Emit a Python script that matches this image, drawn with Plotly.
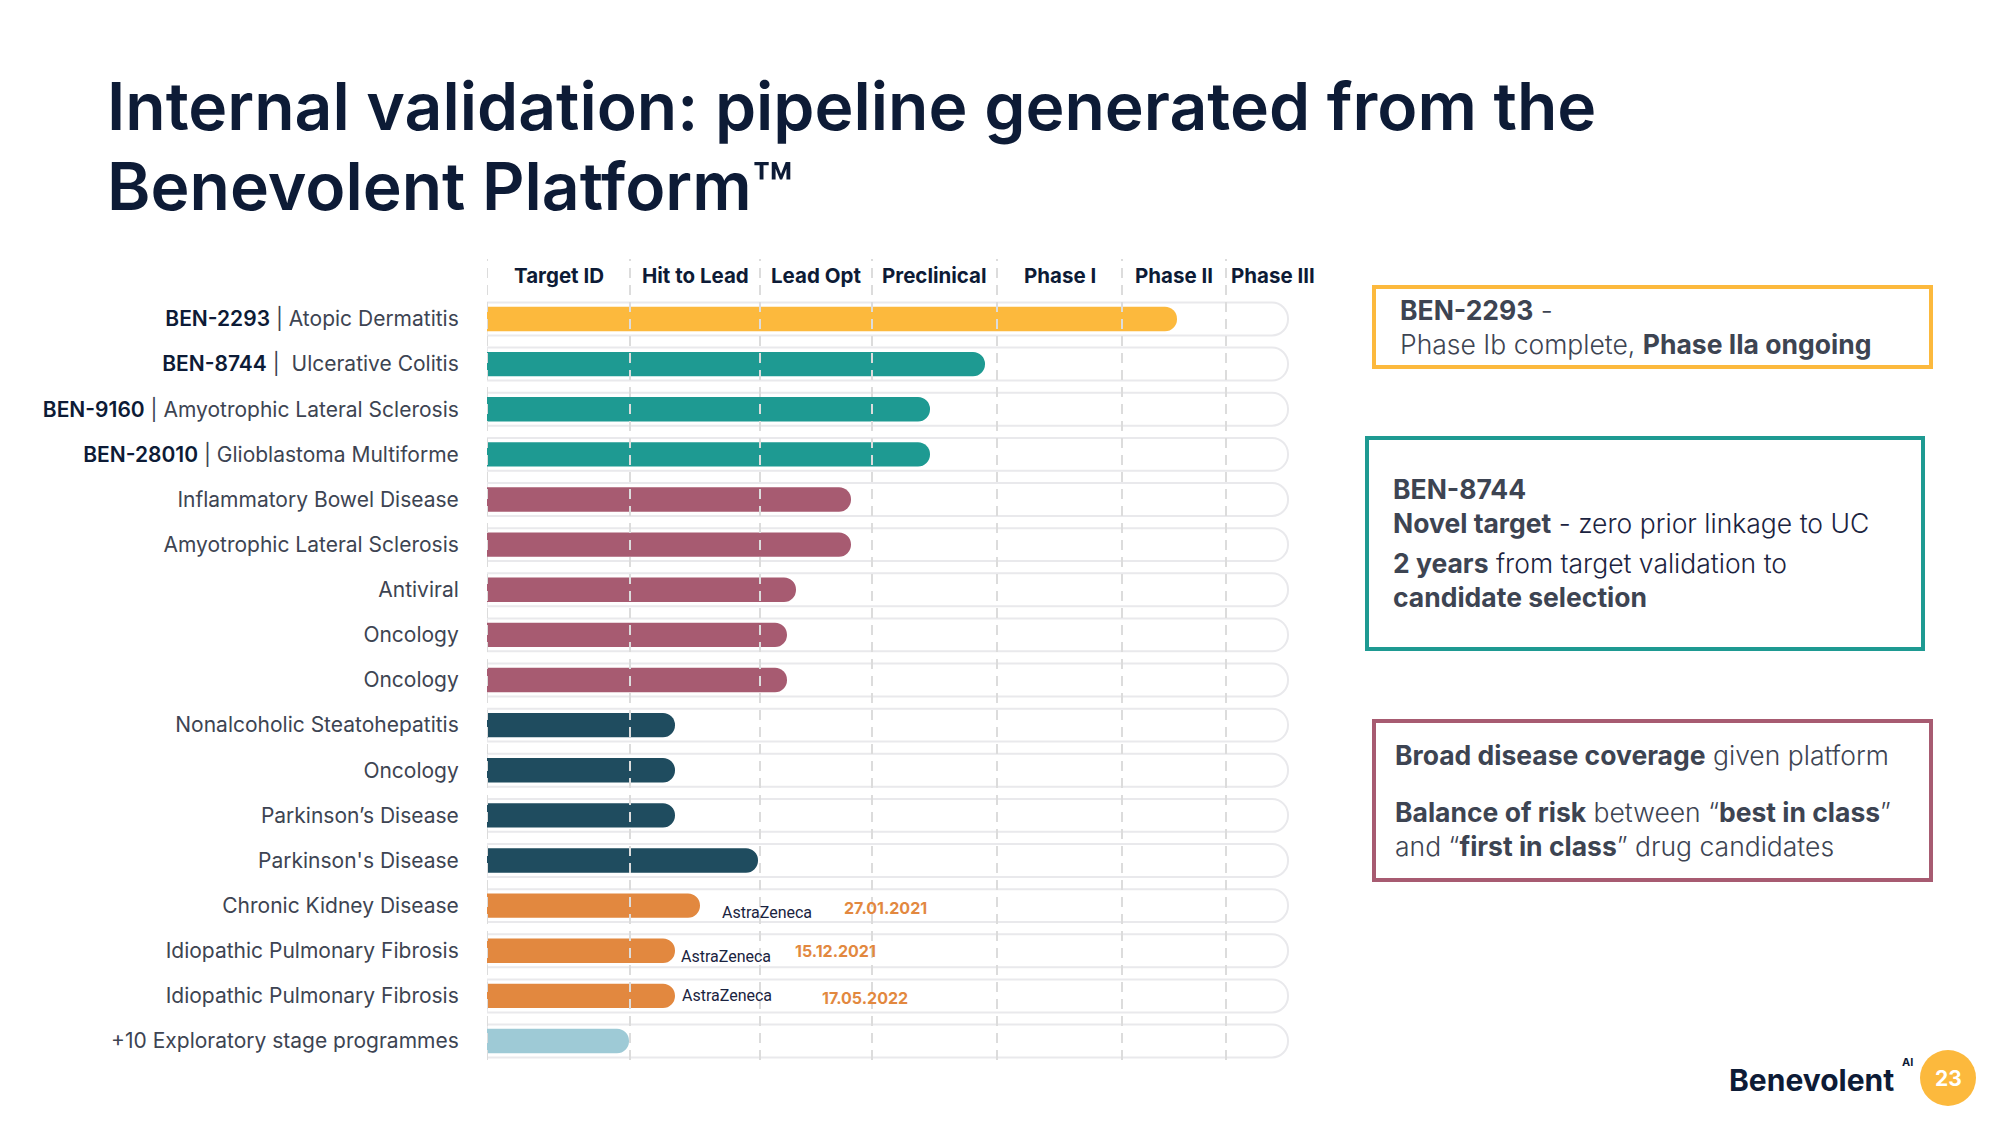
import plotly.graph_objects as go

# ---------------- data ----------------
stage_names = ["Target ID", "Hit to Lead", "Lead Opt", "Preclinical", "Phase I", "Phase II", "Phase III"]
stage_edges = [0, 143, 273, 385, 510, 635, 739, 801]

programme_codes = ["BEN-2293", "BEN-8744", "BEN-9160", "BEN-28010"] + [""] * 13
programme_names = [
    "Atopic Dermatitis",
    " Ulcerative Colitis",
    "Amyotrophic Lateral Sclerosis",
    "Glioblastoma Multiforme",
    "Inflammatory Bowel Disease",
    "Amyotrophic Lateral Sclerosis",
    "Antiviral",
    "Oncology",
    "Oncology",
    "Nonalcoholic Steatohepatitis",
    "Oncology",
    "Parkinson\u2019s Disease",
    "Parkinson's Disease",
    "Chronic Kidney Disease",
    "Idiopathic Pulmonary Fibrosis",
    "Idiopathic Pulmonary Fibrosis",
    "+10 Exploratory stage programmes",
]
progress = [690, 498, 443, 443, 364, 364, 309, 300, 300, 188, 188, 188, 271, 213, 188, 188, 142]
groups = ["clinical", "lead", "lead", "lead", "mid", "mid", "mid", "mid", "mid",
          "early", "early", "early", "early", "partner", "partner", "partner", "explore"]
group_colors = {
    "clinical": "#fcb93d",
    "lead": "#1e9a92",
    "mid": "#a75b71",
    "early": "#1f4c5f",
    "partner": "#e2883f",
    "explore": "#9ecad6",
}
partner_rows = [13, 14, 15]
partner_dates = ["27.01.2021", "15.12.2021", "17.05.2022"]

# ---------------- figure ----------------
W, H = 2000, 1125
def px(x):
    return x / W
def py(y):
    return 1 - y / H

FONT = "Inter, 'Open Sans', sans-serif"
NAVY = "#0d1b36"
GREY = "#3d4452"
DARK = "#1b2340"

tick_text = [
    (f"<span style='color:{NAVY};font-weight:600'>{c}</span> | {n}" if c else n)
    for c, n in zip(programme_codes, programme_names)
]

rows = list(range(len(programme_names)))
fig = go.Figure()

# background tracks (base subplot)
fig.add_trace(go.Bar(
    x=[stage_edges[-1]] * len(rows), y=rows, orientation="h", xaxis="x", yaxis="y",
    width=0.73, marker=dict(color="white", line=dict(color="#e9e9ec", width=2), cornerradius=16),
    hoverinfo="skip", showlegend=False,
))
# programme bars (overlaying axis so they are drawn on top and rounded independently)
fig.add_trace(go.Bar(
    x=progress, y=rows, orientation="h", width=0.54, xaxis="x2", yaxis="y",
    marker=dict(color=[group_colors[g] for g in groups], cornerradius=12, line=dict(width=0)),
    showlegend=False,
))

x0_px, x1_px = 487, 487 + 810
fig.update_layout(
    width=W, height=H, margin=dict(l=0, r=0, t=0, b=0),
    paper_bgcolor="white", plot_bgcolor="white",
    barmode="overlay", font=dict(family=FONT, color=GREY),
    xaxis=dict(domain=[px(x0_px), px(x1_px)], range=[0, 810], visible=False, fixedrange=True),
    xaxis2=dict(overlaying="x", range=[0, 810], visible=False, fixedrange=True),
    yaxis=dict(domain=[py(1063.6), py(296.4)], range=[len(rows) - 0.5, -0.5],
               tickvals=rows, ticktext=tick_text, showgrid=False, zeroline=False,
               showline=False, ticks="outside", ticklen=23, tickcolor="rgba(0,0,0,0)",
               tickfont=dict(size=21, color=GREY, family=FONT)),
)

# dashed stage separators
for e in stage_edges[:-1]:
    fig.add_shape(type="line", xref="x", yref="paper", x0=e, x1=e, y0=py(1060), y1=py(259),
                  line=dict(color="#dcdcdc", width=2, dash="10px,7px"), layer="above")

# stage headers
mids = [(stage_edges[i] + stage_edges[i + 1]) / 2 for i in range(len(stage_names))]
for i, (name, m) in enumerate(zip(stage_names, mids)):
    fig.add_annotation(x=m, y=py(276), xref="x", yref="paper", text=f"<b>{name}</b>",
                       showarrow=False, xanchor="center", yanchor="middle",
                       xshift=16 if i == len(stage_names) - 1 else 0,
                       font=dict(size=20.5, color=NAVY, family=FONT))

# partner annotations
az_x = [233, 192, 193]
date_x = [355, 306, 333]
az_yshift = [-7, -6, 0]
date_yshift = [-2, 0, -2]
for r, d, ax, dx, ys, dys in zip(partner_rows, partner_dates, az_x, date_x, az_yshift, date_yshift):
    fig.add_annotation(x=ax, y=r, xref="x", yref="y", text="AstraZeneca", showarrow=False,
                       xanchor="left", yanchor="middle", yshift=ys,
                       font=dict(size=16, color="#1a2340", family="Roboto"))
    fig.add_annotation(x=dx, y=r, xref="x", yref="y", text=f"<b>{d}</b>", showarrow=False,
                       xanchor="left", yanchor="middle", yshift=dys,
                       font=dict(size=16, color="#e2883f", family=FONT))

# title
fig.add_annotation(x=px(105), y=py(106), xref="paper", yref="paper", showarrow=False,
                   xanchor="left", yanchor="middle", text="Internal validation: pipeline generated from the",
                   font=dict(size=66, color=NAVY, family=FONT, weight=600))
fig.add_annotation(x=px(105), y=py(186), xref="paper", yref="paper", showarrow=False,
                   xanchor="left", yanchor="middle", text="Benevolent Platform\u2122",
                   font=dict(size=66, color=NAVY, family=FONT, weight=600))

# right-hand boxes
boxes = [((1374, 287, 1931, 367), "#fcb93d"), ((1367, 438, 1923, 649), "#1e9a92"), ((1374, 721, 1931, 880), "#a75b71")]
for (bx0, by0, bx1, by1), c in boxes:
    fig.add_shape(type="rect", xref="paper", yref="paper", x0=px(bx0), x1=px(bx1), y0=py(by1), y1=py(by0),
                  line=dict(color=c, width=4), fillcolor="rgba(0,0,0,0)")

box_texts = [
    (1398, 327, "<b>BEN-2293</b> -<br>Phase Ib complete, <b>Phase IIa ongoing</b>"),
    (1391, 506, f"<b>BEN-8744</b><br><b>Novel target</b><span style='color:{DARK}'> - zero prior linkage to UC</span>"),
    (1391, 580, f"<b>2 years</b><span style='color:{DARK}'> from target validation to</span><br><b>candidate selection</b>"),
    (1393, 755, "<b>Broad disease coverage</b> given platform"),
    (1393, 829, "<b>Balance of risk</b> between \u201c<b>best in class</b>\u201d<br>and \u201c<b>first in class</b>\u201d drug candidates"),
]
for bx, by, t in box_texts:
    fig.add_annotation(x=px(bx), y=py(by), xref="paper", yref="paper", showarrow=False,
                       xanchor="left", yanchor="middle", text=t, align="left",
                       font=dict(size=26.5, color=GREY, family=FONT, weight=300))

# footer logo and page number
fig.add_annotation(x=px(1727), y=py(1080), xref="paper", yref="paper", showarrow=False,
                   xanchor="left", yanchor="middle", text="<b>Benevolent</b>",
                   font=dict(size=30, color=NAVY, family=FONT))
fig.add_annotation(x=px(1900), y=py(1062), xref="paper", yref="paper", showarrow=False,
                   xanchor="left", yanchor="middle", text="<b>AI</b>",
                   font=dict(size=11, color=NAVY, family=FONT))
fig.add_shape(type="circle", xref="paper", yref="paper", x0=px(1920), x1=px(1976), y0=py(1106), y1=py(1050),
              fillcolor="#fcb93d", line=dict(width=0))
fig.add_annotation(x=px(1948), y=py(1078), xref="paper", yref="paper", showarrow=False,
                   xanchor="center", yanchor="middle", text="<b>23</b>",
                   font=dict(size=21, color="white", family=FONT))

fig.write_html("out.html")
